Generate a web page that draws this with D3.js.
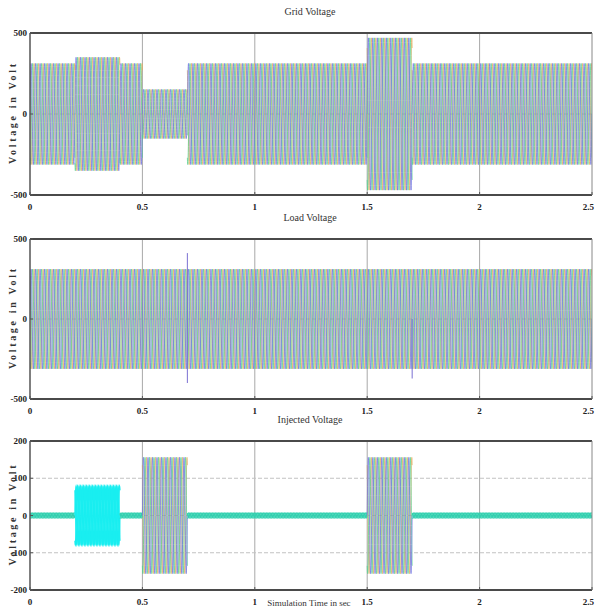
<!DOCTYPE html>
<html>
<head>
<meta charset="utf-8">
<script src="https://cdn.jsdelivr.net/npm/d3@7"></script>
<style>
  html, body { margin: 0; padding: 0; background: #fff; }
  svg { display: block; }
  .tick-label { font-family: "Liberation Serif", "DejaVu Serif", serif; font-size: 9px; fill: #222; font-weight: bold; }
  .title { font-family: "Liberation Serif", "DejaVu Serif", serif; font-size: 10px; fill: #333; }
  .ylab { font-family: "Liberation Serif", "DejaVu Serif", serif; font-size: 10px; font-weight: bold; fill: #333; }
</style>
</head>
<body>
<svg id="chart" width="595" height="613"></svg>
<script>
// Simulation settings
const T_END = 2.5;          // seconds
const MAINS_HZ = 50;        // supply frequency
const phaseShifts = [0, -2 * Math.PI / 3, 2 * Math.PI / 3];

// Peak voltage (V) per time interval for each scope
const gridStart = [0, 0.2, 0.4, 0.5, 0.7, 1.5, 1.7];
const gridEnd   = [0.2, 0.4, 0.5, 0.7, 1.5, 1.7, 2.5];
const gridPeak  = [312, 350, 312, 152, 312, 470, 312];

const loadStart = [0];
const loadEnd   = [2.5];
const loadPeak  = [312];
// Switching transients on the load side (time s, peak V)
const loadSpikeTime = [0.7, 0.7, 1.7];
const loadSpikeVal  = [412, -400, -372];

const injStart = [0, 0.2, 0.4, 0.5, 0.7, 1.5, 1.7];
const injEnd   = [0.2, 0.4, 0.5, 0.7, 1.5, 1.7, 2.5];
const injPeak  = [7, 78, 7, 156, 7, 156, 7];
const injKind  = ["ripple", "single", "ripple", "three", "ripple", "three", "ripple"];

// Axis ticks and labels
const xTicks = [0, 0.5, 1, 1.5, 2, 2.5];
const xTickLabels = ["0", "0.5", "1", "1.5", "2", "2.5"];
const bigYTicks = [-500, 0, 500];
const bigYTickLabels = ["-500", "0", "500"];
const injYTicks = [-200, -100, 0, 100, 200];
const injYTickLabels = ["-200", "-100", "0", "100", "200"];

const titles = ["Grid Voltage", "Load Voltage", "Injected Voltage"];
const yLabel = "Voltage in Volt";
const xLabel = "Simulation Time in sec";

// phase c drawn first, then b, then a
const phaseColors = ["#6c70e2", "#55d08e", "#e2ac5c"];
const drawOrder = [2, 1, 0];
const singleColor = "#19eef0";
const rippleColor = "#2fcfae";

const svg = d3.select("#chart");
const x = d3.scaleLinear().domain([0, T_END]).range([30, 592]);

function segments(starts, ends, peaks, kinds) {
  return starts.map((s, i) => ({ t0: s, t1: ends[i], peak: peaks[i], kind: kinds ? kinds[i] : "three" }));
}

function panel(cfg) {
  const y = d3.scaleLinear().domain(cfg.domain).range([cfg.bottom, cfg.top]);
  const g = svg.append("g");

  const clipId = "clip" + cfg.id;
  svg.append("clipPath").attr("id", clipId)
    .append("rect").attr("x", x(0)).attr("y", cfg.top)
    .attr("width", x(T_END) - x(0)).attr("height", cfg.bottom - cfg.top);

  // grid
  const grid = g.append("g");
  grid.selectAll("line.vx").data(xTicks.slice(1, -1)).join("line")
    .attr("x1", d => x(d)).attr("x2", d => x(d))
    .attr("y1", cfg.top).attr("y2", cfg.bottom)
    .attr("stroke", "#a8a8a8").attr("stroke-width", 1);
  grid.selectAll("line.hy").data(cfg.yTicks.slice(1, -1)).join("line")
    .attr("x1", x(0)).attr("x2", x(T_END))
    .attr("y1", d => y(d)).attr("y2", d => y(d))
    .attr("stroke", "#c2c2c2").attr("stroke-width", 1).attr("stroke-dasharray", "4,2");

  // waveforms
  const wave = g.append("g").attr("clip-path", `url(#${clipId})`);
  const dt = 1 / (MAINS_HZ * 36);
  const line = d3.line().x(d => x(d[0])).y(d => y(d[1]));
  cfg.segs.forEach(seg => {
    drawOrder.forEach(k => {
      const ph = phaseShifts[k];
      const pts = [];
      for (let t = seg.t0; t <= seg.t1 + 1e-9; t += dt) {
        pts.push([t, seg.peak * Math.sin(2 * Math.PI * MAINS_HZ * t + ph)]);
      }
      let color = phaseColors[k], width = 1, op = 0.72;
      if (seg.kind === "single") { color = singleColor; width = 1.4; op = 1; }
      if (seg.kind === "ripple") { color = rippleColor; width = 1.2; op = 0.9; }
      wave.append("path").attr("d", line(pts))
        .attr("fill", "none").attr("stroke", color)
        .attr("stroke-width", width).attr("stroke-opacity", op);
    });
  });

  if (cfg.spikes) {
    wave.selectAll("line.spike").data(cfg.spikes).join("line")
      .attr("x1", d => x(d.t)).attr("x2", d => x(d.t))
      .attr("y1", y(0)).attr("y2", d => y(d.v))
      .attr("stroke", "#7a70d2").attr("stroke-width", 1);
  }

  // frame
  g.append("line").attr("x1", x(0)).attr("x2", x(T_END)).attr("y1", cfg.top).attr("y2", cfg.top)
    .attr("stroke", "#4a4a4a").attr("stroke-width", 2);
  g.append("line").attr("x1", x(0)).attr("x2", x(T_END)).attr("y1", cfg.bottom).attr("y2", cfg.bottom)
    .attr("stroke", "#4a4a4a").attr("stroke-width", 2);
  g.append("line").attr("x1", x(0)).attr("x2", x(0)).attr("y1", cfg.top).attr("y2", cfg.bottom)
    .attr("stroke", "#555").attr("stroke-width", 1.5);
  g.append("line").attr("x1", x(T_END)).attr("x2", x(T_END)).attr("y1", cfg.top).attr("y2", cfg.bottom)
    .attr("stroke", "#888").attr("stroke-width", 1);

  // y axis labels
  g.selectAll("text.yt").data(cfg.yTicks).join("text")
    .attr("class", "tick-label")
    .attr("x", 27).attr("y", d => y(d) + 3)
    .attr("text-anchor", "end")
    .text((d, i) => cfg.yTickLabels[i]);
  g.selectAll("line.ytk").data(cfg.yTicks).join("line")
    .attr("x1", x(0)).attr("x2", x(0) + 3).attr("y1", d => y(d)).attr("y2", d => y(d))
    .attr("stroke", "#555");

  // x axis labels; the last one is kept inside the page edge
  g.selectAll("text.xt").data(xTicks).join("text")
    .attr("class", "tick-label")
    .attr("x", (d, i) => i === xTicks.length - 1 ? 594 : x(d)).attr("y", cfg.bottom + 15)
    .attr("text-anchor", (d, i) => i === xTicks.length - 1 ? "end" : "middle")
    .text((d, i) => xTickLabels[i]);
  g.selectAll("line.xtk").data(xTicks).join("line")
    .attr("x1", d => x(d)).attr("x2", d => x(d)).attr("y1", cfg.bottom).attr("y2", cfg.bottom - 3)
    .attr("stroke", "#555");

  // title
  g.append("text").attr("class", "title")
    .attr("x", 310).attr("y", cfg.top - 18)
    .attr("text-anchor", "middle").text(cfg.title);

  // y label
  const cy = (cfg.top + cfg.bottom) / 2;
  g.append("text").attr("class", "ylab")
    .attr("transform", `translate(16,${cy}) rotate(-90)`)
    .attr("text-anchor", "middle")
    .attr("textLength", 100).attr("lengthAdjust", "spacing")
    .text(yLabel);
}

panel({
  id: 1, top: 33, bottom: 195, domain: [-500, 500],
  yTicks: bigYTicks, yTickLabels: bigYTickLabels,
  segs: segments(gridStart, gridEnd, gridPeak), title: titles[0]
});
panel({
  id: 2, top: 239, bottom: 399, domain: [-500, 500],
  yTicks: bigYTicks, yTickLabels: bigYTickLabels,
  segs: segments(loadStart, loadEnd, loadPeak), title: titles[1],
  spikes: loadSpikeTime.map((t, i) => ({ t, v: loadSpikeVal[i] }))
});
panel({
  id: 3, top: 441, bottom: 590, domain: [-200, 200],
  yTicks: injYTicks, yTickLabels: injYTickLabels,
  segs: segments(injStart, injEnd, injPeak, injKind), title: titles[2]
});

// x axis label sits on the bottom tick row
svg.append("text").attr("class", "title")
  .attr("x", 309).attr("y", 606)
  .attr("text-anchor", "middle")
  .style("font-size", "9px")
  .text(xLabel);
</script>
</body>
</html>
